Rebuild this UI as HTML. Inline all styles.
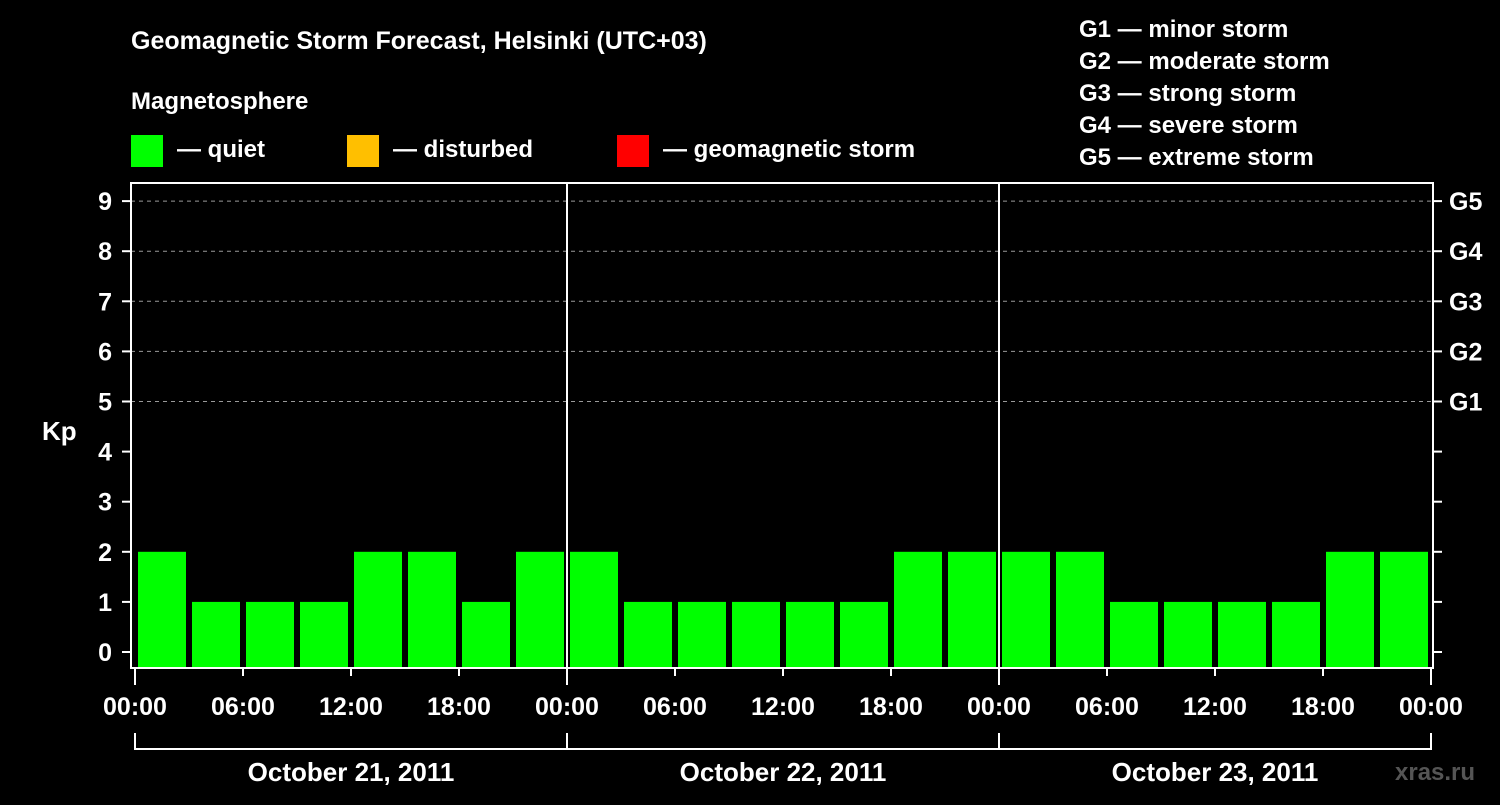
<!DOCTYPE html>
<html><head><meta charset="utf-8"><style>
body{margin:0;background:#000;width:1500px;height:800px;overflow:hidden;font-family:"Liberation Sans",sans-serif}
svg text{font-family:"Liberation Sans",sans-serif;font-weight:bold;fill:#fff}
</style></head><body>
<svg id="c" width="1500" height="800">
<text x="131" y="49" font-size="25">Geomagnetic Storm Forecast, Helsinki (UTC+03)</text>
<text x="131" y="109" font-size="24">Magnetosphere</text>
<rect x="131" y="135" width="32" height="32" fill="#00ff00"/>
<text x="177" y="157" font-size="24">— quiet</text>
<rect x="347" y="135" width="32" height="32" fill="#ffbf00"/>
<text x="393" y="157" font-size="24">— disturbed</text>
<rect x="617" y="135" width="32" height="32" fill="#ff0000"/>
<text x="663" y="157" font-size="24">— geomagnetic storm</text>
<g font-size="24">
<text x="1079" y="37">G1 — minor storm</text>
<text x="1079" y="69">G2 — moderate storm</text>
<text x="1079" y="101">G3 — strong storm</text>
<text x="1079" y="133">G4 — severe storm</text>
<text x="1079" y="165">G5 — extreme storm</text>
</g>
<text x="42" y="440" font-size="26">Kp</text>
<g id="plot"></g>
<text x="1395" y="780" font-size="24" fill="#555" style="fill:#555">xras.ru</text>
</svg>
<script>
const kp=[2,1,1,1,2,2,1,2, 2,1,1,1,1,1,2,2, 2,2,1,1,1,1,2,2];
const yTicks=[0,1,2,3,4,5,6,7,8,9];
const gLabels=["G1","G2","G3","G4","G5"];
const xLabels=["00:00","06:00","12:00","18:00"];
const days=["October 21, 2011","October 22, 2011","October 23, 2011"];
const NS="http://www.w3.org/2000/svg";
const g=document.getElementById('plot');
const L=131,R=1433,T=183,B=668,X0=135,DAY=432;
const y=v=>652-v*50.1;
const x=h=>X0+h*DAY/24;
function mk(t,a,p){const e=document.createElementNS(NS,t);for(const k in a)e.setAttribute(k,a[k]);(p||g).appendChild(e);return e;}
yTicks.forEach(v=>{
 const l=mk('line',{x1:122,x2:L,y1:y(v),y2:y(v),stroke:'#fff','stroke-width':2});
 
 
 const r=mk('line',{x1:R,x2:1442,y1:y(v),y2:y(v),stroke:'#fff','stroke-width':2});
 
 
 const t=mk('text',{x:112,y:y(v)+9,'font-size':25,'text-anchor':'end'});t.textContent=v;
 
 
});
gLabels.forEach((s,i)=>{
 const v=5+i;
 const d=mk('line',{x1:L,x2:R,y1:y(v),y2:y(v),stroke:'#999','stroke-width':1,'stroke-dasharray':'4,4'});
 
 
 const t=mk('text',{x:1449,y:y(v)+9,'font-size':25});t.textContent=s;
 
 
});
kp.forEach((v,i)=>{
 const r=mk('rect',{x:x(i*3)+3,y:y(v),width:48,height:B-y(v),fill:v>=5?'#ff0000':v>=4?'#ffbf00':'#00ff00'});
 
 
});
const f=mk('rect',{x:L,y:T,width:R-L,height:B-T,fill:'none',stroke:'#fff','stroke-width':2});


for(let d=1;d<days.length;d++){
 const l=mk('line',{x1:x(d*24),x2:x(d*24),y1:T,y2:B,stroke:'#fff','stroke-width':2});
 
 
}
for(let d=0;d<=days.length;d++){
 for(let k=0;k<xLabels.length;k++){
  if(d==days.length&&k>0)break;
  const h=d*24+k*6;
  const t=mk('text',{x:x(h),y:715,'font-size':25,'text-anchor':'middle'});t.textContent=xLabels[k];
  
  
  const tk=mk('line',{x1:x(h),x2:x(h),y1:B,y2:k==0?685:676,stroke:'#fff','stroke-width':2});
  
  
 }
 const v=mk('line',{x1:x(d*24),x2:x(d*24),y1:733,y2:750,stroke:'#fff','stroke-width':2});
 
 
}
const bl=mk('line',{x1:x(0),x2:x(days.length*24),y1:749,y2:749,stroke:'#fff','stroke-width':2});


days.forEach((s,d)=>{
 const t=mk('text',{x:x(d*24+12),y:781,'font-size':26,'text-anchor':'middle'});t.textContent=s;
 
 
});
</script>
</body></html>
